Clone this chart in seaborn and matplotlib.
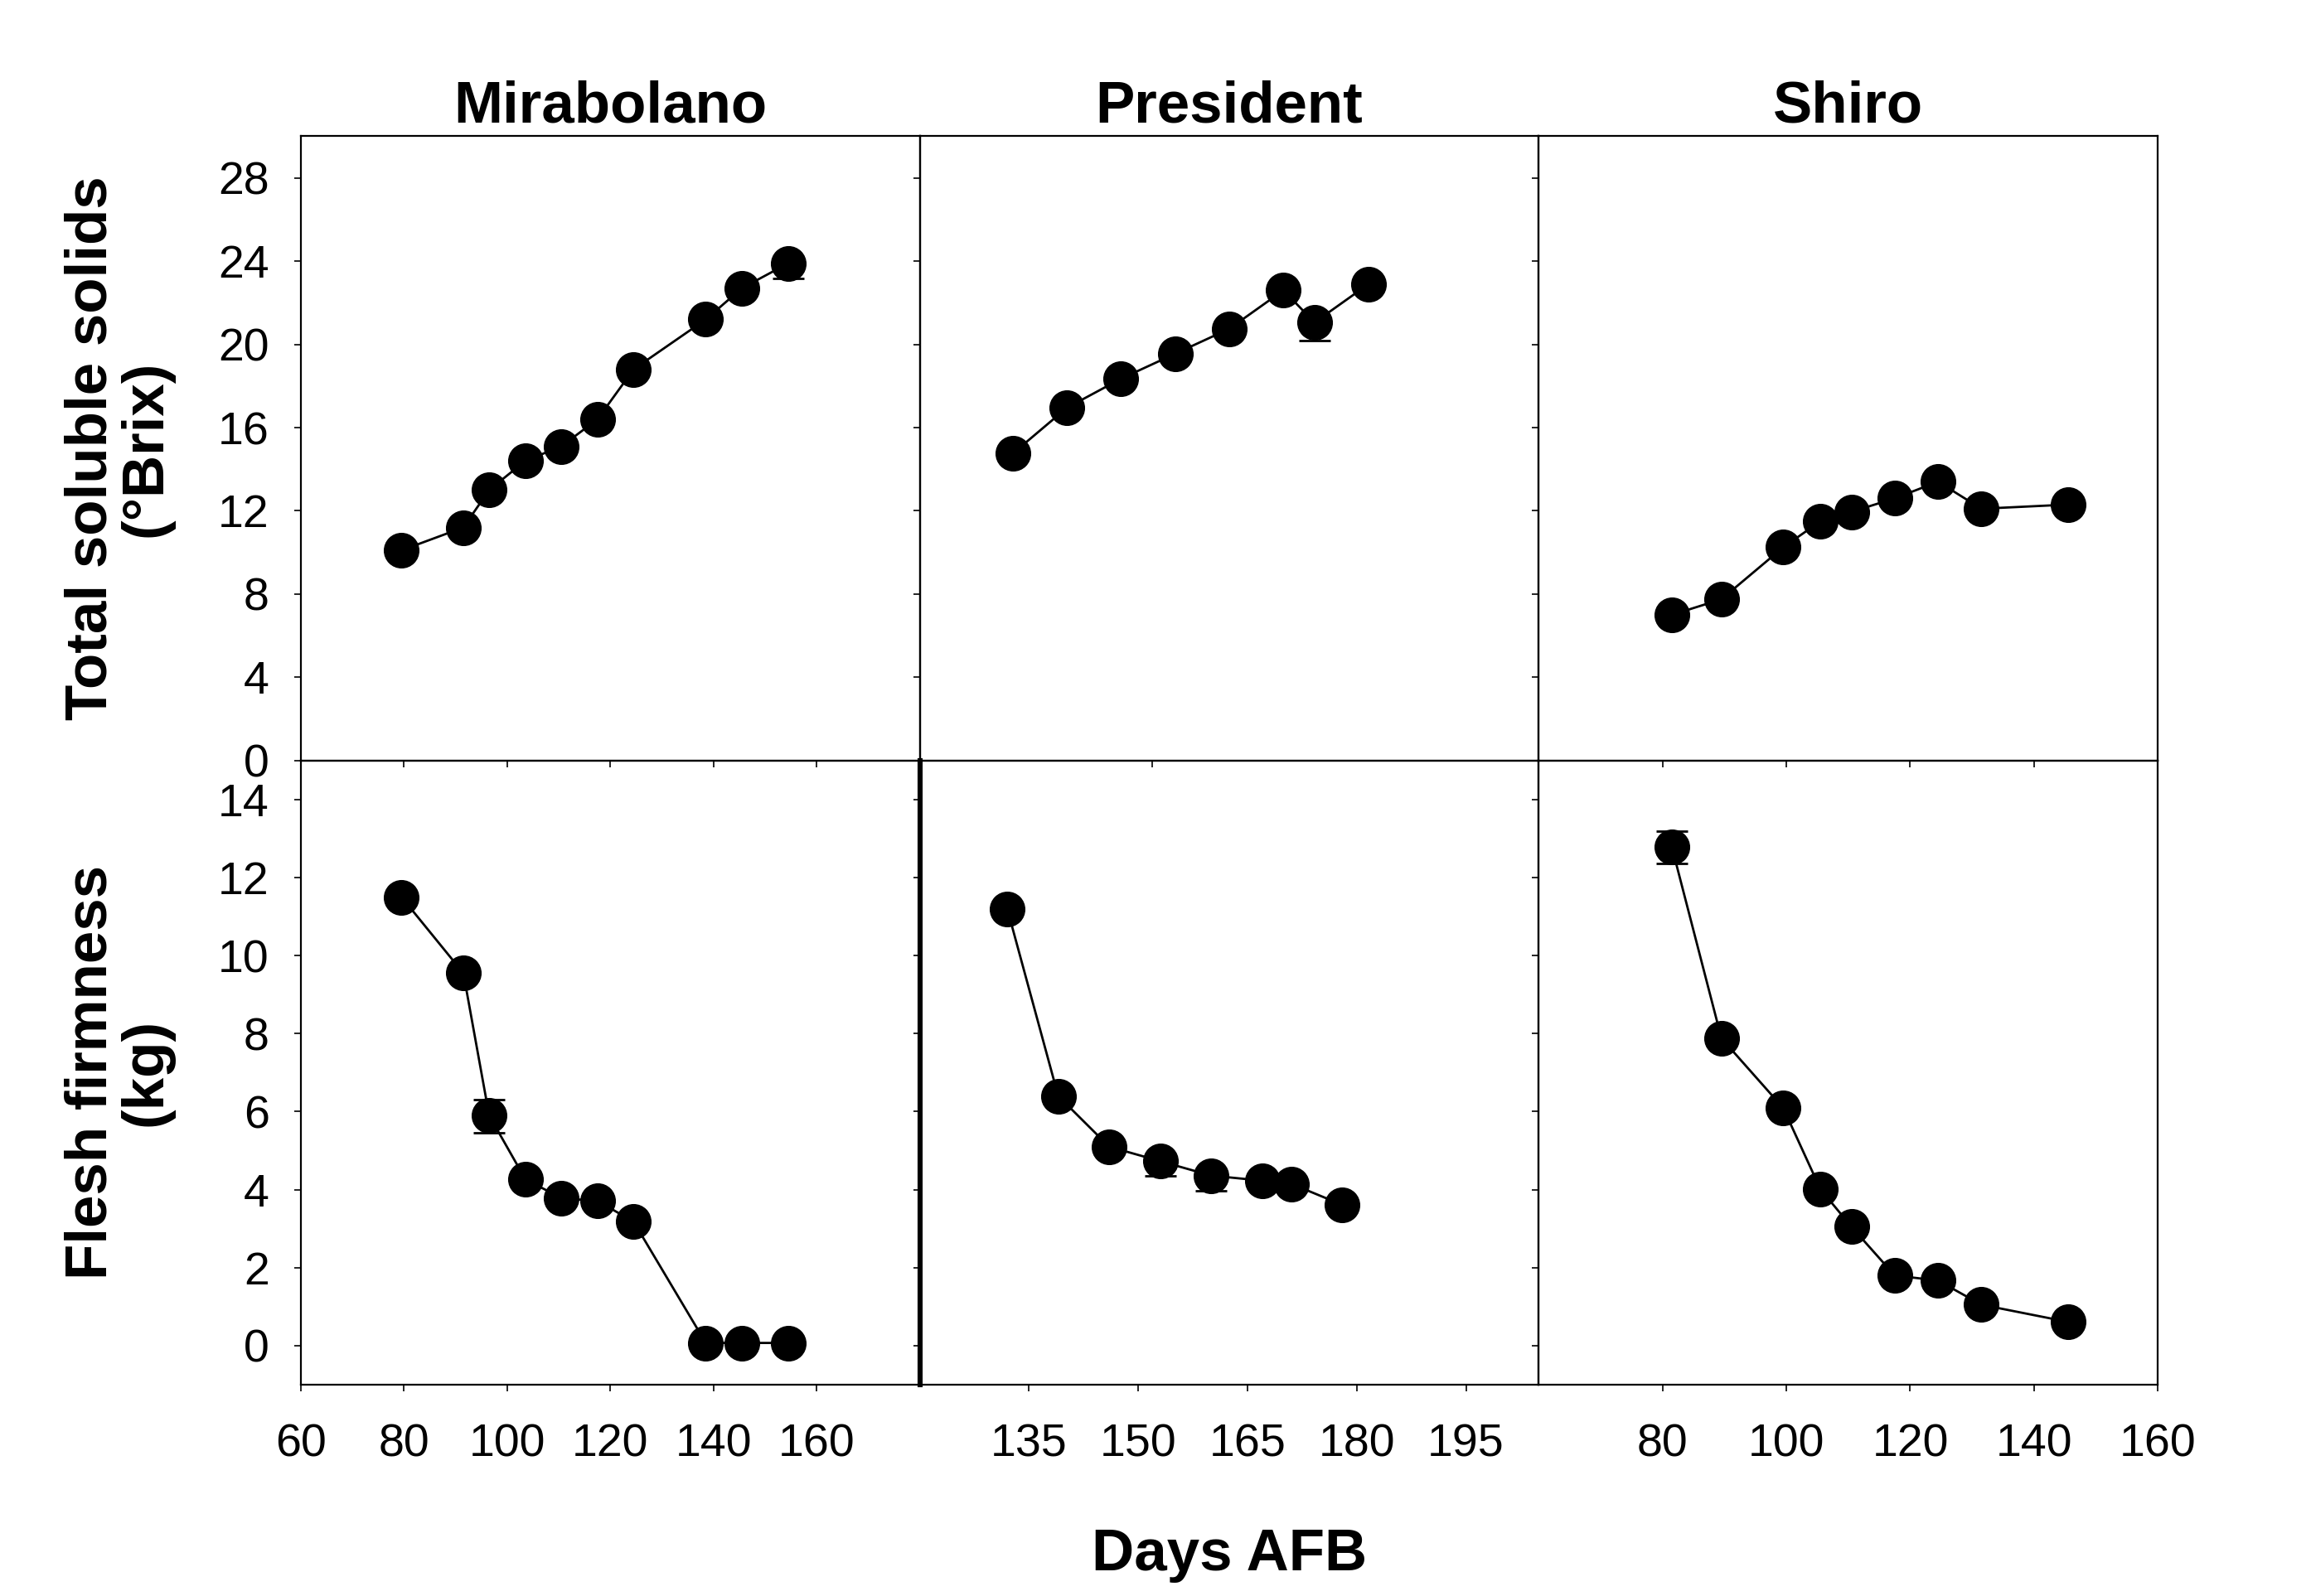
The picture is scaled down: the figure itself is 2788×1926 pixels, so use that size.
#fruit ripening plots: TSS + firmness for 3 plum cultivars

import numpy as np
import matplotlib
matplotlib.use("Agg")
import matplotlib.pyplot as plt
import seaborn as sns

#cultivars (column titles)
cultivars = ["Mirabolano", "President", "Shiro"]

#days after full bloom
mira_days = [79.5, 91.5, 96.5, 103.5, 110.5, 117.5, 124.5, 138.5, 145.5, 154.5]
pres_days = [132, 139, 146, 153, 160, 167, 171, 178]
shiro_days = [81.5, 89.5, 99.5, 105.5, 110.5, 117.5, 124.5, 131.5, 145.5]

#total soluble solids (°Brix)
mira_tss = [10.1, 11.2, 13.0, 14.4, 15.1, 16.4, 18.8, 21.2, 22.7, 23.9]
pres_tss = [14.75, 16.95, 18.35, 19.55, 20.75, 22.6, 21.05, 22.9]
shiro_tss = [7.0, 7.75, 10.25, 11.5, 11.95, 12.6, 13.4, 12.1, 12.3]

#flesh firmness (kg)
mira_firm = [11.5, 9.55, 5.9, 4.27, 3.78, 3.71, 3.18, 0.07, 0.07, 0.07]
pres_firm = [11.2, 6.4, 5.1, 4.73, 4.36, 4.23, 4.15, 3.61]
shiro_firm = [12.78, 7.88, 6.09, 4.01, 3.05, 1.80, 1.67, 1.05, 0.61]

#error bars, lower / upper half (most hide behind the markers)
mira_tss_lo = [0, 0, 0, 0, 0, 0, 0, 0, 0, 0.75]
mira_tss_hi = [0, 0, 0, 0, 0, 0, 0, 0, 0, 0]
pres_tss_lo = [0, 0, 0, 0, 0, 0, 0.88, 0]
pres_tss_hi = [0, 0, 0, 0, 0, 0, 0, 0]
shiro_tss_lo = [0, 0, 0, 0, 0, 0, 0, 0, 0]
shiro_tss_hi = [0, 0, 0, 0, 0, 0, 0, 0, 0]
mira_firm_lo = [0, 0, 0.45, 0, 0, 0, 0, 0, 0, 0]
mira_firm_hi = [0, 0, 0.4, 0, 0, 0, 0, 0, 0, 0]
pres_firm_lo = [0, 0, 0, 0.38, 0.38, 0, 0, 0]
pres_firm_hi = [0, 0, 0, 0, 0, 0, 0, 0]
shiro_firm_lo = [0.42, 0, 0, 0, 0, 0, 0, 0, 0]
shiro_firm_hi = [0.4, 0, 0, 0, 0, 0, 0, 0, 0]

#axis setup per column
xlims_top = [(60, 180), (120, 200), (60, 160)]
xlims_bot = [(60, 180), (120, 205), (60, 160)]
xticks_top = [[60, 80, 100, 120, 140, 160], [120, 150], [80, 100, 120, 140]]
xticks_bot = [[60, 80, 100, 120, 140, 160], [135, 150, 165, 180, 195], [80, 100, 120, 140, 160]]
tss_ticks = [0, 4, 8, 12, 16, 20, 24, 28]
firm_ticks = [0, 2, 4, 6, 8, 10, 12, 14]

sns.set_style("ticks")
plt.rcParams["font.family"] = ["Liberation Sans", "DejaVu Sans"]
plt.rcParams["axes.linewidth"] = 0.8
plt.rcParams["text.color"] = "black"
plt.rcParams["axes.labelcolor"] = "black"

fig = plt.figure(figsize=(13.94, 9.63), dpi=200)
gs = fig.add_gridspec(2, 3, left=0.1302, right=0.9337, top=0.9146, bottom=0.1324,
                      wspace=0, hspace=0)

days = [mira_days, pres_days, shiro_days]
tss = [mira_tss, pres_tss, shiro_tss]
firm = [mira_firm, pres_firm, shiro_firm]
tss_err = [(mira_tss_lo, mira_tss_hi), (pres_tss_lo, pres_tss_hi), (shiro_tss_lo, shiro_tss_hi)]
firm_err = [(mira_firm_lo, mira_firm_hi), (pres_firm_lo, pres_firm_hi), (shiro_firm_lo, shiro_firm_hi)]

TICK_FS = 20
LABEL_FS = 25.5

for row in range(2):
    for col in range(3):
        ax = fig.add_subplot(gs[row, col])
        ax.set_facecolor("none") #ticks from neighbours stay visible
        x = days[col]
        y = tss[col] if row == 0 else firm[col]
        lo, hi = tss_err[col] if row == 0 else firm_err[col]

        #error bars under the markers
        lo = np.array(lo)
        hi = np.array(hi)
        mask = (lo + hi) > 0
        if mask.any():
            ax.errorbar(np.array(x)[mask], np.array(y)[mask], yerr=[lo[mask], hi[mask]],
                        fmt="none", ecolor="black", elinewidth=1.0, capsize=7,
                        capthick=1.0, zorder=2)
        sns.lineplot(x=x, y=y, ax=ax, color="black", linewidth=1.0, marker="o",
                     markersize=15, markeredgecolor="black", markeredgewidth=0.5,
                     estimator=None, sort=False, zorder=3)

        if row == 0:
            ax.set_xlim(*xlims_top[col])
            ax.set_xticks(xticks_top[col])
            ax.set_ylim(0, 30)
            ax.set_yticks(tss_ticks)
            ax.set_title(cultivars[col], fontsize=LABEL_FS, fontweight="bold", pad=6,
                         color="black")
            ax.tick_params(axis="x", labelbottom=False)
        else:
            ax.set_xlim(*xlims_bot[col])
            ax.set_xticks(xticks_bot[col])
            ax.set_ylim(-1, 15)
            ax.set_yticks(firm_ticks)

        ax.tick_params(direction="out", length=2.8, width=0.6, labelsize=TICK_FS,
                       pad=11, colors="black")
        ax.tick_params(axis="x", pad=14)
        ax.set_xlabel("")
        ax.set_ylabel("")
        if col > 0:
            ax.tick_params(axis="y", labelleft=False)
        else:
            lab = "Total soluble solids\n(°Brix)" if row == 0 else "Flesh firmness\n(kg)"
            ax.set_ylabel(lab, fontsize=LABEL_FS, fontweight="bold", linespacing=1.0)
            ax.yaxis.set_label_coords(-0.205, 0.5)
        for s in ax.spines.values():
            s.set_color("black")
            s.set_linewidth(0.8)
            s.set_visible(True)
        if row == 1 and col == 1:
            ax.spines["left"].set_linewidth(2.2)

fig.text(0.532, 1 - 1895 / 1926, "Days AFB", fontsize=LABEL_FS, fontweight="bold",
         ha="center", va="baseline")

plt.savefig("out.png", dpi=200, facecolor="white")
plt.close()
